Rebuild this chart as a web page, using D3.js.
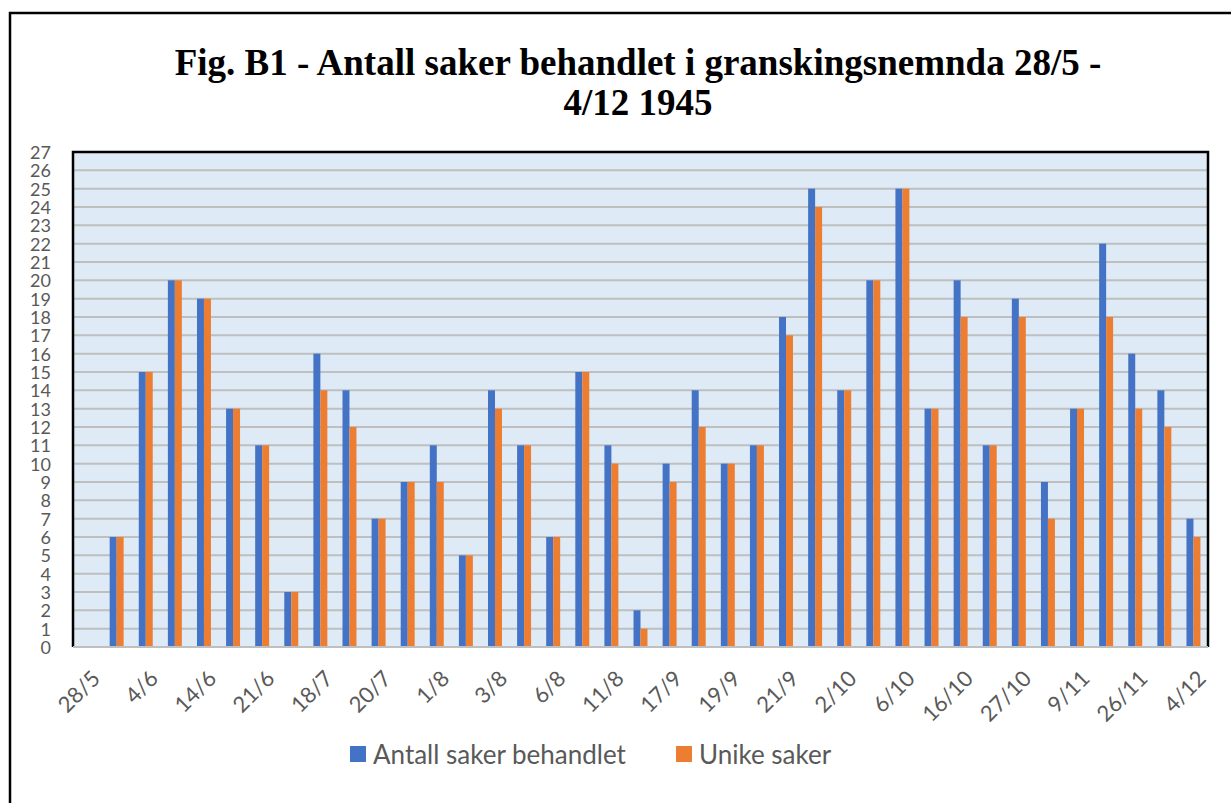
<!DOCTYPE html>
<html>
<head>
<meta charset="utf-8">
<script src="https://cdn.jsdelivr.net/npm/d3@7"></script>
<style>
    body { margin: 0; background: #fff; }
    text { font-family: Lato, "Open Sans", sans-serif; }
</style>
</head>
<body>
<svg id="chart" width="1231" height="803"></svg>
<script>
// one entry per meeting date; only every other date is labelled on the axis
const dateLabels = ["28/5", "", "4/6", "", "14/6", "", "21/6", "", "18/7", "", "20/7", "", "1/8", "",
    "3/8", "", "6/8", "", "11/8", "", "17/9", "", "19/9", "", "21/9", "", "2/10", "", "6/10", "",
    "16/10", "", "27/10", "", "9/11", "", "26/11", "", "4/12"];
const behandlet = [0, 6, 15, 20, 19, 13, 11, 3, 16, 14, 7, 9, 11, 5, 14, 11, 6, 15, 11, 2,
    10, 14, 10, 11, 18, 25, 14, 20, 25, 13, 20, 11, 19, 9, 13, 22, 16, 14, 7];
const unike = [0, 6, 15, 20, 19, 13, 11, 3, 14, 12, 7, 9, 9, 5, 13, 11, 6, 15, 10, 1,
    9, 12, 10, 11, 17, 24, 14, 20, 25, 13, 18, 11, 18, 7, 13, 18, 13, 12, 6];
const seriesNames = ["Antall saker behandlet", "Unike saker"];
const seriesColors = ["#4472c4", "#ed7d31"];
const yTicks = d3.range(0, 28);

const svg = d3.select("#chart");
const plot = { left: 73, right: 1208, top: 152, bottom: 647 };

// outer chart frame, only left and top edges fall inside the picture
svg.append("rect")
    .attr("x", 10).attr("y", 13)
    .attr("width", 1300).attr("height", 900)
    .attr("fill", "none").attr("stroke", "#000").attr("stroke-width", 2.5);

svg.append("text")
    .attr("x", 638).attr("y", 75)
    .attr("text-anchor", "middle")
    .style("font-family", "'Liberation Serif', 'Times New Roman', serif")
    .style("font-weight", "bold").style("font-size", "37px")
    .selectAll("tspan")
    .data(["Fig. B1 - Antall saker behandlet i granskingsnemnda 28/5 -", "4/12 1945"])
    .enter().append("tspan")
    .attr("x", 638)
    .attr("dy", (d, i) => i === 0 ? 0 : 40)
    .text(d => d);

const x = d3.scaleBand().domain(d3.range(dateLabels.length)).range([plot.left, plot.right]);
const y = d3.scaleLinear().domain([0, 27]).range([plot.bottom, plot.top]);
const groupWidth = x.bandwidth() * 0.48;
const x1 = d3.scaleBand().domain([0, 1]).range([0, groupWidth]);

svg.append("rect")
    .attr("x", plot.left).attr("y", plot.top)
    .attr("width", plot.right - plot.left).attr("height", plot.bottom - plot.top)
    .attr("fill", "#deebf7");

svg.append("g")
    .selectAll("line")
    .data(yTicks.filter(d => d > 0 && d < 27))
    .enter().append("line")
    .attr("x1", plot.left).attr("x2", plot.right)
    .attr("y1", d => y(d)).attr("y2", d => y(d))
    .attr("stroke", "#bfbfbf").attr("stroke-width", 2);

const series = [behandlet, unike];
series.forEach((values, s) => {
    svg.append("g")
        .selectAll("rect")
        .data(values)
        .enter().append("rect")
        .attr("x", (d, i) => x(i) + (x.bandwidth() - groupWidth) / 2 + x1(s))
        .attr("y", d => y(d))
        .attr("width", x1.bandwidth())
        .attr("height", d => y(0) - y(d))
        .attr("fill", seriesColors[s]);
});

// bottom axis line is grey, the remaining plot border black
svg.append("path")
    .attr("d", `M${plot.left},${plot.bottom}V${plot.top}H${plot.right}V${plot.bottom}`)
    .attr("fill", "none").attr("stroke", "#000").attr("stroke-width", 2.5);
svg.append("line")
    .attr("x1", plot.left).attr("x2", plot.right)
    .attr("y1", plot.bottom).attr("y2", plot.bottom)
    .attr("stroke", "#bfbfbf").attr("stroke-width", 2);

const yAxis = svg.append("g")
    .attr("transform", `translate(${plot.left - 22},0)`)
    .call(d3.axisLeft(y).tickValues(yTicks).tickSize(0).tickPadding(0));
yAxis.select(".domain").remove();
yAxis.selectAll("text")
    .attr("dy", "0.36em")
    .style("font-size", "18px").style("font-family", "Lato, sans-serif")
    .attr("fill", "#595959");

svg.append("g")
    .selectAll("text")
    .data(dateLabels.map((d, i) => [d, i]).filter(d => d[0] !== ""))
    .enter().append("text")
    .attr("transform", d => `translate(${x(d[1]) + x.bandwidth() / 2 + 3},${plot.bottom + 22}) rotate(-45)`)
    .attr("text-anchor", "end")
    .attr("dy", "0.7em")
    .style("font-size", "22px")
    .attr("fill", "#595959")
    .text(d => d[0]);

const legendX = [350, 676];
const legend = svg.append("g");
seriesNames.forEach((name, s) => {
    legend.append("rect")
        .attr("x", legendX[s]).attr("y", 746)
        .attr("width", 16).attr("height", 16)
        .attr("fill", seriesColors[s]);
    legend.append("text")
        .attr("x", legendX[s] + 23).attr("y", 764)
        .style("font-size", "26px")
        .attr("fill", "#595959")
        .text(name);
});
</script>
</body>
</html>
